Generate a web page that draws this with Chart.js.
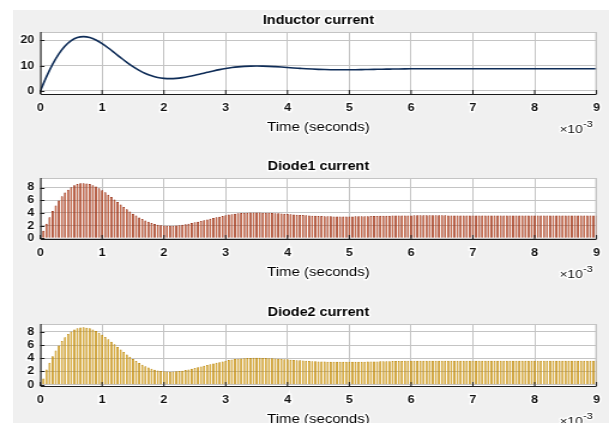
<!DOCTYPE html>
<html>
<head>
<meta charset="utf-8">
<script src="https://cdn.jsdelivr.net/npm/chart.js@4.4.1/dist/chart.umd.min.js"></script>
<style>
html,body{margin:0;padding:0;width:609px;height:423px;overflow:hidden;background:#fff;}
#fig{position:absolute;left:13px;top:10px;right:0;bottom:0;background:#f0f0f0;}
canvas{position:absolute;left:0;}
</style>
</head>
<body>
<div id="fig"></div>
<canvas id="c1" width="508" height="146" style="top:0px;width:609px;height:146px"></canvas>
<canvas id="c2" width="508" height="146" style="top:146px;width:609px;height:146px"></canvas>
<canvas id="c3" width="508" height="146" style="top:292px;width:609px;height:146px"></canvas>
<script>
// DATA (time in ms, x axis shows x10^-3 s)
const xTicks = [0,1,2,3,4,5,6,7,8,9];
const inductorYTicks = [0,10,20];
const diodeYTicks = [0,2,4,6,8];

const inductorStep = 0.1;
const inductorCurrent = [
  0, 5.67, 10.61, 14.67, 17.77, 19.90, 21.10, 21.46, 21.09, 20.12,
  18.70, 16.98, 15.10, 13.17, 11.31, 9.61, 8.13, 6.91, 5.98, 5.34,
  4.98, 4.87, 4.98, 5.27, 5.70, 6.21, 6.78, 7.36, 7.92, 8.43,
  8.87, 9.24, 9.52, 9.71, 9.82, 9.85, 9.81, 9.73, 9.60, 9.45,
  9.28, 9.10, 8.94, 8.78, 8.65, 8.54, 8.46, 8.40, 8.37, 8.36,
  8.37, 8.39, 8.43, 8.48, 8.53, 8.58, 8.63, 8.66, 8.70, 8.73,
  8.75, 8.77, 8.78, 8.79, 8.79, 8.78, 8.78, 8.77, 8.77, 8.76,
  8.76, 8.75, 8.75, 8.75, 8.75, 8.75, 8.75, 8.75, 8.75, 8.75,
  8.75, 8.75, 8.75, 8.75, 8.75, 8.75, 8.75, 8.75, 8.75, 8.75,
  8.75
];

// one value per switching pulse, first pulse at 0.05 ms
const pulseStep = 0.05;
const diode1Current = [
  1.18, 2.30, 3.34, 4.30, 5.17, 5.94, 6.62, 7.20, 7.67, 8.06, 8.35, 8.55, 8.66, 8.69, 8.65, 8.54, 8.37, 8.15, 7.88, 7.57,
  7.24, 6.88, 6.50, 6.12, 5.72, 5.33, 4.95, 4.58, 4.22, 3.89, 3.58, 3.29, 3.03, 2.80, 2.60, 2.42, 2.28, 2.16, 2.08, 2.02,
  1.98, 1.97, 1.98, 2.02, 2.07, 2.13, 2.22, 2.31, 2.41, 2.52, 2.63, 2.75, 2.86, 2.98, 3.09, 3.21, 3.31, 3.41, 3.51, 3.62,
  3.74, 3.81, 3.88, 3.94, 3.98, 4.01, 4.04, 4.06, 4.07, 4.07, 4.07, 4.05, 4.04, 4.02, 4.00, 3.97, 3.94, 3.91, 3.87, 3.84,
  3.79, 3.76, 3.72, 3.69, 3.66, 3.63, 3.60, 3.57, 3.55, 3.53, 3.51, 3.50, 3.48, 3.47, 3.46, 3.46, 3.46, 3.46, 3.46, 3.46,
  3.46, 3.47, 3.48, 3.48, 3.49, 3.50, 3.51, 3.52, 3.53, 3.54, 3.56, 3.57, 3.57, 3.58, 3.59, 3.60, 3.60, 3.61, 3.61, 3.61,
  3.62, 3.62, 3.62, 3.62, 3.62, 3.62, 3.62, 3.62, 3.62, 3.62, 3.62, 3.61, 3.61, 3.61, 3.61, 3.61, 3.61, 3.61, 3.61, 3.61,
  3.61, 3.61, 3.61, 3.61, 3.61, 3.61, 3.61, 3.61, 3.61, 3.61, 3.61, 3.61, 3.61, 3.61, 3.61, 3.61, 3.61, 3.61, 3.61, 3.61,
  3.61, 3.61, 3.61, 3.61, 3.61, 3.61, 3.61, 3.61, 3.61, 3.61, 3.61, 3.61, 3.61, 3.61, 3.61, 3.61, 3.61, 3.61, 3.61, 3.61
];
const diode2Current = [
  0.95, 2.30, 3.34, 4.30, 5.17, 5.94, 6.62, 7.20, 7.67, 8.06, 8.35, 8.55, 8.66, 8.69, 8.65, 8.54, 8.37, 8.15, 7.88, 7.57,
  7.24, 6.88, 6.50, 6.12, 5.72, 5.33, 4.95, 4.58, 4.22, 3.89, 3.58, 3.29, 3.03, 2.80, 2.60, 2.42, 2.28, 2.16, 2.08, 2.02,
  1.98, 1.97, 1.98, 2.02, 2.07, 2.13, 2.22, 2.31, 2.41, 2.52, 2.63, 2.75, 2.86, 2.98, 3.09, 3.21, 3.31, 3.41, 3.51, 3.62,
  3.74, 3.81, 3.88, 3.94, 3.98, 4.01, 4.04, 4.06, 4.07, 4.07, 4.07, 4.05, 4.04, 4.02, 4.00, 3.97, 3.94, 3.91, 3.87, 3.84,
  3.79, 3.76, 3.72, 3.69, 3.66, 3.63, 3.60, 3.57, 3.55, 3.53, 3.51, 3.50, 3.48, 3.47, 3.46, 3.46, 3.46, 3.46, 3.46, 3.46,
  3.46, 3.47, 3.48, 3.48, 3.49, 3.50, 3.51, 3.52, 3.53, 3.54, 3.56, 3.57, 3.57, 3.58, 3.59, 3.60, 3.60, 3.61, 3.61, 3.61,
  3.62, 3.62, 3.62, 3.62, 3.62, 3.62, 3.62, 3.62, 3.62, 3.62, 3.62, 3.61, 3.61, 3.61, 3.61, 3.61, 3.61, 3.61, 3.61, 3.61,
  3.61, 3.61, 3.61, 3.61, 3.61, 3.61, 3.61, 3.61, 3.61, 3.61, 3.61, 3.61, 3.61, 3.61, 3.61, 3.61, 3.61, 3.61, 3.61, 3.61,
  3.61, 3.61, 3.61, 3.61, 3.61, 3.61, 3.61, 3.61, 3.61, 3.61, 3.61, 3.61, 3.61, 3.61, 3.61, 3.61, 3.61, 3.61, 3.61, 3.61
];

// canvases are drawn narrow and stretched to 609px, like the reference
const SX = 609/508;
const AX_LEFT = 40.3/SX;
const AX_RIGHT_PAD = 508 - 599/SX;
const FONT = '"Liberation Sans", Arial, sans-serif';

Chart.defaults.font.family = FONT;
Chart.defaults.color = '#111';

function haloText(ctx, text, x, y, font, align, color){
  ctx.font = font;
  ctx.textAlign = align;
  ctx.textBaseline = 'middle';
  ctx.lineJoin = 'round';
  ctx.lineWidth = 3;
  ctx.strokeStyle = 'rgba(255,255,255,0.95)';
  ctx.strokeText(text, x, y);
  ctx.fillStyle = color;
  ctx.fillText(text, x, y);
}

function matlabAxes(title){
  return {
    id: 'matlabAxes',
    beforeDraw(chart){
      const {ctx, chartArea:a} = chart;
      ctx.save();
      ctx.fillStyle = '#fff';
      ctx.fillRect(a.left, a.top, a.right-a.left, a.bottom-a.top);
      ctx.restore();
    },
    afterDatasetsDraw(chart){
      const {ctx, chartArea:a, scales:{x, y}} = chart;
      ctx.save();
      ctx.lineWidth = 1;
      ctx.strokeStyle = '#c4c4c4';
      ctx.beginPath();
      ctx.moveTo(a.left, a.top+0.5); ctx.lineTo(a.right, a.top+0.5);
      ctx.moveTo(a.right-0.5, a.top); ctx.lineTo(a.right-0.5, a.bottom);
      ctx.stroke();

      ctx.strokeStyle = '#1a1a1a';
      ctx.beginPath();
      ctx.moveTo(a.left+0.5, a.top); ctx.lineTo(a.left+0.5, a.bottom+0.5); ctx.lineTo(a.right, a.bottom+0.5);
      x.ticks.forEach(t=>{
        const px = x.getPixelForValue(t.value);
        ctx.moveTo(px, a.bottom); ctx.lineTo(px, a.bottom-4);
      });
      y.ticks.forEach(t=>{
        const py = Math.round(y.getPixelForValue(t.value))+0.5;
        ctx.moveTo(a.left, py); ctx.lineTo(a.left+3.5, py);
      });
      ctx.stroke();

      const cx = (a.left+a.right)/2;
      haloText(ctx, title, cx, a.top-11.5, 'bold 12px ' + FONT, 'center', '#000');
      haloText(ctx, 'Time (seconds)', cx, a.bottom+34, '12.5px ' + FONT, 'center', '#000');

      // x10^-3 exponent label
      ctx.font = '9.5px ' + FONT;
      const supW = ctx.measureText('-3').width;
      const rx = a.right - 3;
      haloText(ctx, '-3', rx, a.bottom+30.5, '9.5px ' + FONT, 'right', '#111');
      haloText(ctx, '\u00d710', rx-supW, a.bottom+35.5, '11.5px ' + FONT, 'right', '#111');
      ctx.restore();
    }
  };
}

function makePanel(id, type, dataset, yMin, yMax, yTicks, xAxisH, title){
  const tickFont = {size: 10.5, weight: 'bold'};
  return new Chart(document.getElementById(id), {
    type: type,
    data: {datasets: [dataset]},
    options: {
      responsive: false,
      animation: false,
      devicePixelRatio: 1,
      layout: {padding: {top: 32, right: AX_RIGHT_PAD, left: 0, bottom: 0}},
      plugins: {legend: {display: false}, tooltip: {enabled: false}},
      scales: {
        x: {
          type: 'linear', min: 0, max: 9, offset: false,
          grid: {color: '#c4c4c4', drawTicks: false, offset: false},
          border: {display: false},
          ticks: {font: tickFont, color: '#111', padding: 7.5, maxRotation: 0, autoSkip: false,
                  textStrokeColor: 'rgba(255,255,255,0.95)', textStrokeWidth: 3},
          afterBuildTicks: s => { s.ticks = xTicks.map(v => ({value: v})); },
          afterFit: s => { s.height = xAxisH; }
        },
        y: {
          min: yMin, max: yMax,
          grid: {color: '#c4c4c4', drawTicks: false},
          border: {display: false},
          ticks: {font: tickFont, color: '#111', padding: 5, autoSkip: false,
                  textStrokeColor: 'rgba(255,255,255,0.95)', textStrokeWidth: 3},
          afterBuildTicks: s => { s.ticks = yTicks.map(v => ({value: v})); },
          afterFit: s => { s.width = AX_LEFT; }
        }
      }
    },
    plugins: [matlabAxes(title)]
  });
}

makePanel('c1', 'line', {
  data: inductorCurrent.map((v,i) => ({x: i*inductorStep, y: v})),
  borderColor: '#0f2d58', borderWidth: 1.6, pointRadius: 0,
  cubicInterpolationMode: 'monotone', fill: false
}, -1.2, 23.3, inductorYTicks, 52, 'Inductor current');

makePanel('c2', 'bar', {
  data: diode1Current.map((v,i) => ({x: (i+1)*pulseStep, y: v})),
  backgroundColor: '#e6703f', borderColor: '#8c1e04', borderWidth: 0.75,
  borderSkipped: 'start', barPercentage: 0.72, categoryPercentage: 1.0
}, -0.1, 9.5, diodeYTicks, 53, 'Diode1 current');

makePanel('c3', 'bar', {
  data: diode2Current.map((v,i) => ({x: (i+1)*pulseStep, y: v})),
  backgroundColor: '#efb52c', borderColor: '#b88200', borderWidth: 0.75,
  borderSkipped: 'start', barPercentage: 0.72, categoryPercentage: 1.0
}, -0.2, 9.2, diodeYTicks, 52, 'Diode2 current');
</script>
</body>
</html>
